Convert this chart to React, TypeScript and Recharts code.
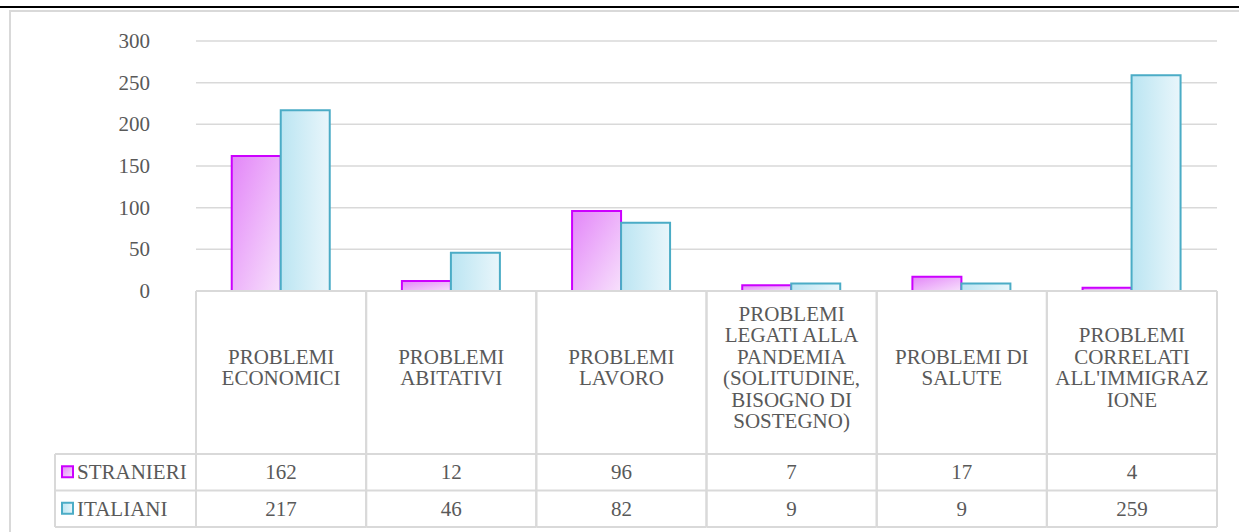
import { BarChart, Bar, XAxis, YAxis, CartesianGrid } from "recharts";

const categories = [
  "PROBLEMI\nECONOMICI",
  "PROBLEMI\nABITATIVI",
  "PROBLEMI\nLAVORO",
  "PROBLEMI\nLEGATI ALLA\nPANDEMIA\n(SOLITUDINE,\nBISOGNO DI\nSOSTEGNO)",
  "PROBLEMI DI\nSALUTE",
  "PROBLEMI\nCORRELATI\nALL'IMMIGRAZ\nIONE",
];
const stranieri = [162, 12, 96, 7, 17, 4];
const italiani = [217, 46, 82, 9, 9, 259];
const seriesNames = ["STRANIERI", "ITALIANI"];
const yTicks = [0, 50, 100, 150, 200, 250, 300];

const data = categories.map((name, i) => ({
  name,
  STRANIERI: stranieri[i],
  ITALIANI: italiani[i],
}));

const FONT = "Liberation Serif";
const TEXT = "#595959";
const LINE = "#D9D9D9";
const STROKES = ["#CC00FF", "#4BACC6"];
const FILLS = ["url(#gradStr)", "url(#gradIta)"];

const CHART_W = 1239;
const CHART_H = 532;
const PLOT_LEFT = 196;
const PLOT_RIGHT = 1217;
const COL_W = (PLOT_RIGHT - PLOT_LEFT) / categories.length;
const HEADER_H = 163;
const ROW_H = 36.5;
const LEGEND_W = 141;
const LINE_H = 21.5;

function TableTick(props: any) {
  const { x, y, payload, index } = props;
  const hw = COL_W / 2;
  const left = x - hw;
  const right = x + hw;
  const r1 = y + HEADER_H;
  const r2 = r1 + ROW_H;
  const r3 = r2 + ROW_H;
  const lines = String(payload.value).split("\n");
  const mid = y + 76.5;
  const top = mid - ((lines.length - 1) / 2) * LINE_H + 7;
  const values = [stranieri[index], italiani[index]];

  return (
    <g fontFamily={FONT} fontSize={21}>
      <line x1={left} y1={y} x2={right} y2={y} stroke={LINE} strokeWidth={2} />
      <line x1={left} y1={r1} x2={right} y2={r1} stroke={LINE} strokeWidth={2} />
      <line x1={left} y1={r2} x2={right} y2={r2} stroke={LINE} strokeWidth={2} />
      <line x1={left} y1={r3} x2={right} y2={r3} stroke={LINE} strokeWidth={2} />
      <line x1={left} y1={y} x2={left} y2={r3} stroke={LINE} strokeWidth={2} />
      <line x1={right} y1={y} x2={right} y2={r3} stroke={LINE} strokeWidth={2} />
      <text textAnchor="middle" fontFamily={FONT} fontSize={21} fill={TEXT}>
        {lines.map((ln, i) => (
          <tspan key={i} x={x} y={top + i * LINE_H}>
            {ln}
          </tspan>
        ))}
      </text>
      {values.map((v, i) => (
        <text
          key={"v" + i}
          x={x}
          y={r1 + ROW_H * i + ROW_H / 2 + 7}
          textAnchor="middle"
          fontFamily={FONT}
          fontSize={21}
          fill={TEXT}
        >
          {v}
        </text>
      ))}
      {index === 0 && (
        <g>
          <line x1={left - LEGEND_W} y1={r1} x2={left} y2={r1} stroke={LINE} strokeWidth={2} />
          <line x1={left - LEGEND_W} y1={r2} x2={left} y2={r2} stroke={LINE} strokeWidth={2} />
          <line x1={left - LEGEND_W} y1={r3} x2={left} y2={r3} stroke={LINE} strokeWidth={2} />
          <line x1={left - LEGEND_W} y1={r1} x2={left - LEGEND_W} y2={r3} stroke={LINE} strokeWidth={2} />
          {seriesNames.map((s, i) => {
            const cy = r1 + ROW_H * i + ROW_H / 2;
            return (
              <g key={s}>
                <rect
                  x={left - LEGEND_W + 7}
                  y={cy - 6}
                  width={11}
                  height={11}
                  fill={FILLS[i]}
                  stroke={STROKES[i]}
                  strokeWidth={2}
                />
                <text x={left - LEGEND_W + 22} y={cy + 7} fontFamily={FONT} fontSize={21} fill={TEXT}>
                  {s}
                </text>
              </g>
            );
          })}
        </g>
      )}
    </g>
  );
}

function YTick(props: any) {
  const { x, y, payload } = props;
  return (
    <text x={x} y={y + 7} textAnchor="end" fontFamily={FONT} fontSize={21} fill={TEXT}>
      {payload.value}
    </text>
  );
}

export default function App() {
  return (
    <div style={{ position: "absolute", left: 0, top: 0, width: CHART_W, height: CHART_H, background: "#fff", overflow: "hidden", fontFamily: FONT }}>
      <div style={{ position: "absolute", left: 0, top: 6, width: CHART_W, height: 2, background: "#000" }} />
      <div
        style={{
          position: "absolute",
          left: 9,
          top: 10,
          width: CHART_W,
          height: CHART_H,
          borderLeft: `2px solid ${LINE}`,
          borderTop: `2px solid ${LINE}`,
        }}
      />
      <div style={{ position: "absolute", left: 0, top: 0 }}>
        <BarChart
          width={CHART_W}
          height={CHART_H}
          data={data}
          margin={{ top: 41, right: CHART_W - PLOT_RIGHT, left: 0, bottom: 5 }}
          barCategoryGap="21%"
          barGap={0}
          style={{ fontFamily: FONT }}
        >
          <defs>
            <linearGradient id="gradStr" x1="0" y1="0" x2="1" y2="1">
              <stop offset="0%" stopColor="#E386F8" />
              <stop offset="100%" stopColor="#F7E0FC" />
            </linearGradient>
            <linearGradient id="gradIta" x1="0" y1="0" x2="1" y2="0">
              <stop offset="0%" stopColor="#BBE5F2" />
              <stop offset="100%" stopColor="#E9F6FB" />
            </linearGradient>
          </defs>
          <CartesianGrid vertical={false} stroke={LINE} strokeWidth={1.5} />
          <XAxis
            dataKey="name"
            height={236}
            axisLine={false}
            tickLine={false}
            tickSize={0}
            tickMargin={0}
            interval={0}
            tick={<TableTick />}
          />
          <YAxis
            width={PLOT_LEFT}
            domain={[0, 300]}
            ticks={yTicks}
            axisLine={false}
            tickLine={false}
            tickSize={0}
            tickMargin={46}
            tick={<YTick />}
          />
          {seriesNames.map((s, i) => (
            <Bar
              key={s}
              dataKey={s}
              fill={FILLS[i]}
              stroke={STROKES[i]}
              strokeWidth={2}
              isAnimationActive={false}
            />
          ))}
        </BarChart>
      </div>
    </div>
  );
}
